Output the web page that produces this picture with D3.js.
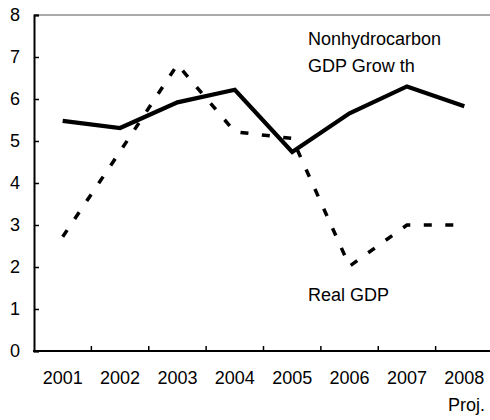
<!DOCTYPE html>
<html>
<head>
<meta charset="utf-8">
<script src="https://cdn.jsdelivr.net/npm/d3@7"></script>
<style>
  body { margin: 0; background: #fff; }
  text { font-family: "Liberation Sans", Arial, sans-serif; }
</style>
</head>
<body>
<div id="vis"></div>
<script>
const FRAME_WIDTH = 490;
const FRAME_HEIGHT = 420;
const MARGINS = {left: 34, right: -3, top: 15, bottom: 69};

// data
const years = ["2001", "2002", "2003", "2004", "2005", "2006", "2007", "2008"];
const nonHydroGrowth = [5.48, 5.31, 5.92, 6.22, 4.74, 5.66, 6.30, 5.83];
const realGDP = [2.72, 4.75, 6.82, 5.22, 5.06, 2.02, 3.0, 3.0];
const yTicks = [0, 1, 2, 3, 4, 5, 6, 7, 8];

const FONT = "Liberation Sans, Arial, sans-serif";

const FRAME = d3.select("#vis")
  .append("svg")
  .attr("width", FRAME_WIDTH)
  .attr("height", FRAME_HEIGHT);

const X_SCALE = d3.scaleBand()
  .domain(years)
  .range([MARGINS.left, FRAME_WIDTH - MARGINS.right]);

const Y_SCALE = d3.scaleLinear()
  .domain([0, 8])
  .range([FRAME_HEIGHT - MARGINS.bottom, MARGINS.top]);

const xc = (d) => X_SCALE(d) + X_SCALE.bandwidth() / 2;

// top frame line
FRAME.append("line")
  .attr("x1", MARGINS.left)
  .attr("x2", FRAME_WIDTH - MARGINS.right)
  .attr("y1", Y_SCALE(8))
  .attr("y2", Y_SCALE(8))
  .attr("stroke", "#555")
  .attr("stroke-width", 1);

// y axis
const yAxis = FRAME.append("g")
  .attr("transform", `translate(${MARGINS.left},0)`)
  .call(d3.axisLeft(Y_SCALE).tickValues(yTicks).tickSize(-5).tickPadding(14));
yAxis.select(".domain").attr("stroke", "#000").attr("stroke-width", 2);
yAxis.selectAll(".tick line").attr("stroke-width", 1.5);
yAxis.selectAll("text")
  .attr("font-size", 18)
  .attr("font-family", FONT)
  .attr("fill", "#000");

// x axis: labels at band centres, ticks on band boundaries
const xAxis = FRAME.append("g")
  .attr("transform", `translate(0,${Y_SCALE(0)})`)
  .call(d3.axisBottom(X_SCALE).tickSize(0).tickPadding(20));
xAxis.select(".domain").remove();
xAxis.selectAll("text")
  .attr("font-size", 18)
  .attr("font-family", FONT)
  .attr("fill", "#000");

FRAME.append("line")
  .attr("x1", MARGINS.left - 1)
  .attr("x2", FRAME_WIDTH - MARGINS.right)
  .attr("y1", Y_SCALE(0))
  .attr("y2", Y_SCALE(0))
  .attr("stroke", "#000")
  .attr("stroke-width", 2);

FRAME.selectAll(".xtick")
  .data(years.slice(1))
  .enter()
  .append("line")
  .attr("class", "xtick")
  .attr("x1", (d) => X_SCALE(d))
  .attr("x2", (d) => X_SCALE(d))
  .attr("y1", Y_SCALE(0))
  .attr("y2", Y_SCALE(0) - 5)
  .attr("stroke", "#000")
  .attr("stroke-width", 1.5);

FRAME.append("text")
  .attr("x", 485)
  .attr("y", 411)
  .attr("text-anchor", "end")
  .attr("font-size", 18)
  .text("Proj.");

// lines
const line = (vals) => d3.line()
  .x((d, i) => xc(years[i]))
  .y((d) => Y_SCALE(d))(vals);

FRAME.append("path")
  .attr("d", line(realGDP))
  .attr("fill", "none")
  .attr("stroke", "#000")
  .attr("stroke-width", 3.5)
  .attr("stroke-dasharray", "8,13.5");

FRAME.append("path")
  .attr("d", line(nonHydroGrowth))
  .attr("fill", "none")
  .attr("stroke", "#000")
  .attr("stroke-width", 4.2)
  .attr("stroke-linejoin", "miter");

// labels
FRAME.append("text").attr("x", 308).attr("y", 45).attr("font-size", 18).text("Nonhydrocarbon");
FRAME.append("text").attr("x", 308).attr("y", 72).attr("font-size", 18).text("GDP Grow th");
FRAME.append("text").attr("x", 308).attr("y", 301).attr("font-size", 18).text("Real GDP");
</script>
</body>
</html>
